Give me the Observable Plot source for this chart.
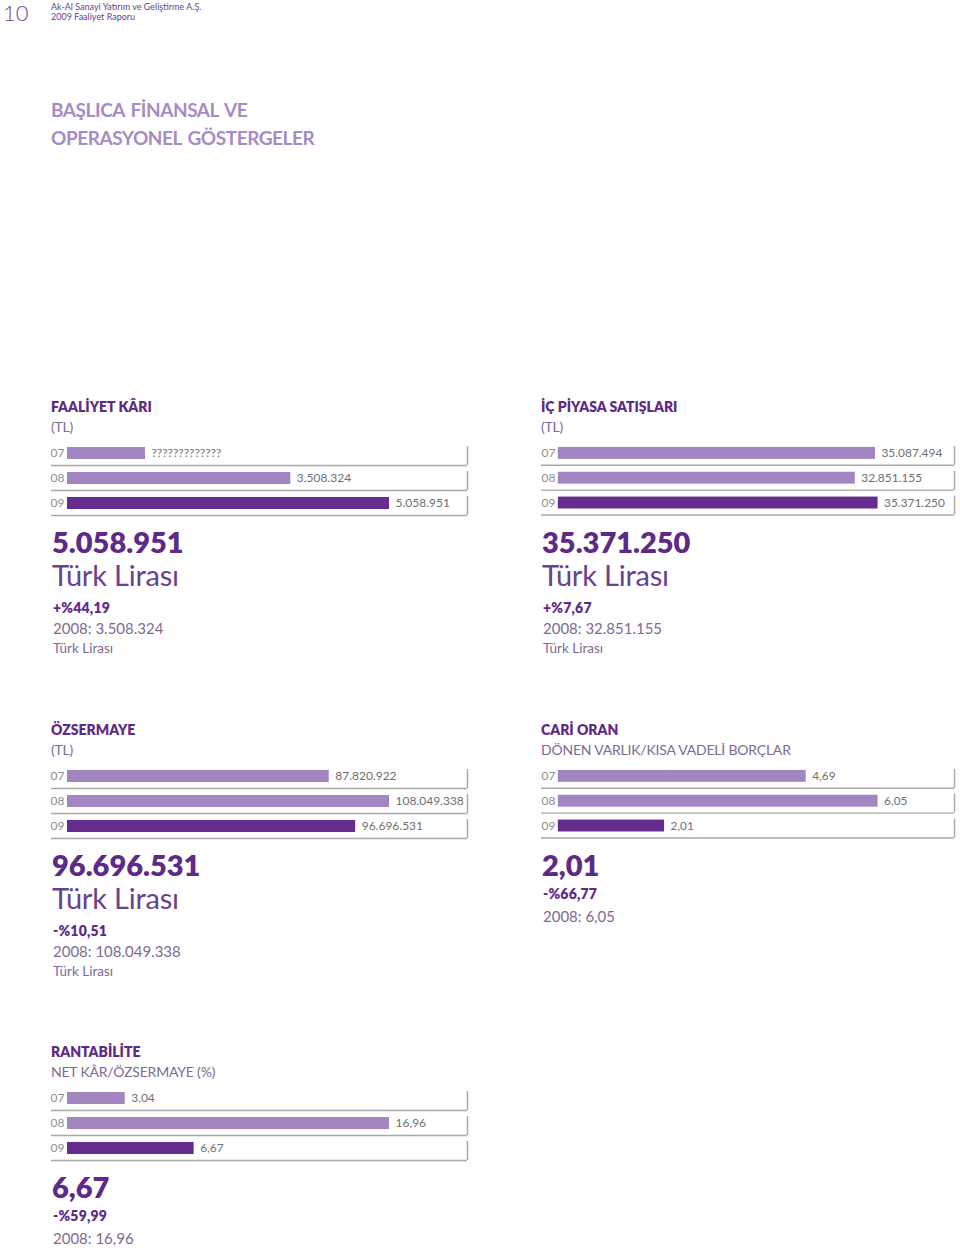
<!DOCTYPE html>
<html><head><meta charset="utf-8">
<script src="https://cdn.jsdelivr.net/npm/d3@7"></script>
<script src="https://cdn.jsdelivr.net/npm/@observablehq/plot@0.6"></script>
<style>
body{margin:0;background:#fff;}
#page{position:relative;width:960px;height:1250px;overflow:hidden;font-family:Lato,"Open Sans",sans-serif;background:#fff;}
.t{position:absolute;white-space:nowrap;line-height:1;}
.panel{position:absolute;}
.panel svg{overflow:visible;}
</style></head><body><div id="page"></div>
<script>
// ---- data ----
const years = ["07", "08", "09"];
const faaliyetKari = [1225000, 3508324, 5058951]; // 07 value unreadable in source
const faaliyetKariLabels = ["?????????????", "3.508.324", "5.058.951"];
const icPiyasaSatislari = [35087494, 32851155, 35371250];
const ozsermaye = [87820922, 108049338, 96696531];
const cariOran = [4.69, 6.05, 2.01];
const rantabilite = [3.04, 16.96, 6.67];
const titles = ["FAALİYET KÂRI", "İÇ PİYASA SATIŞLARI", "ÖZSERMAYE", "CARİ ORAN", "RANTABİLİTE"];
const subtitles = ["(TL)", "(TL)", "(TL)", "DÖNEN VARLIK/KISA VADELİ BORÇLAR", "NET KÂR/ÖZSERMAYE (%)"];
const changes = ["+%44,19", "+%7,67", "-%10,51", "-%66,77", "-%59,99"];

// ---- style ----
const DARK = "#662d91", LIGHT = "#a386c1", TEXT_DARK = "#5e2a88", TITLE = "#a68bc5",
      MUTED = "#7d6b93", UNIT = "#67438f", LINE = "#a9a9a9";

const tr = d3.formatLocale({decimal: ",", thousands: ".", grouping: [3], currency: ["", ""]});
const fmtInt = tr.format(",d");
const fmtDec = tr.format(",.2f");

const page = document.getElementById("page");
function txt(str, x, capTop, size, weight, color, ls = 0, ws = 0) {
  const d = document.createElement("div");
  d.className = "t";
  d.textContent = str;
  d.style.left = x + "px";
  d.style.top = (capTop - 0.17 * size) + "px";
  d.style.fontSize = size + "px";
  d.style.fontWeight = weight;
  d.style.color = color;
  if (ls) d.style.letterSpacing = ls + "px";
  if (ws) d.style.wordSpacing = ws + "px";
  page.appendChild(d);
}

// header
txt("10", 3, 6, 22, 300, "#6a4c8c");
txt("Ak-Al Sanayi Yatırım ve Geliştirme A.Ş.", 51, 4, 9, 400, "#6b3f93");
txt("2009 Faaliyet Raporu", 51, 14, 9, 400, "#6b3f93");
txt("BAŞLICA FİNANSAL VE", 51, 103.5, 19, 700, TITLE, -0.45, 2);
txt("OPERASYONEL GÖSTERGELER", 51, 131.5, 19, 700, TITLE, -0.45, 2);

const panels = [
  {values: faaliyetKari, labels: faaliyetKariLabels, fmt: fmtInt, col: 0, row: 0, unit: true},
  {values: icPiyasaSatislari, fmt: fmtInt, col: 1, row: 0, unit: true},
  {values: ozsermaye, fmt: fmtInt, col: 0, row: 1, unit: true},
  {values: cariOran, fmt: fmtDec, col: 1, row: 1, unit: false},
  {values: rantabilite, fmt: fmtDec, col: 0, row: 2, unit: false}
];
const colX = [51, 541];          // text left
const colSvgLeft = [41, 531];
const colBarStart = [67, 558];
const colFrameLeft = [51, 541];
const colFrameRight = [467, 957];
const rowDy = [0, 323, 645];
const MAXBAR = 322;

panels.forEach((p, k) => {
  const dy = rowDy[p.row], x0 = colX[p.col];
  txt(titles[k], x0, 402.5 + dy, 14, 800, TEXT_DARK, 0);
  txt(subtitles[k], x0, 422 + dy, 14, 400, MUTED, -0.2);
  txt(p.fmt(p.values[2]), x0 + 1, 531.5 + dy, 29, 800, TEXT_DARK);
  if (p.unit) {
    txt("Türk Lirası", x0 + 1, 565 + dy, 29, 400, UNIT, -0.2);
    txt(changes[k], x0 + 2, 603.5 + dy, 14, 800, TEXT_DARK, 0.2);
    txt("2008: " + p.fmt(p.values[1]), x0 + 2, 624 + dy, 15, 400, MUTED);
    txt("Türk Lirası", x0 + 2, 644 + dy, 13.5, 400, MUTED);
  } else {
    txt(changes[k], x0 + 2, 566 + dy, 14, 800, TEXT_DARK, 0.2);
    txt("2008: " + p.fmt(p.values[1]), x0 + 2, 588.5 + dy, 15, 400, MUTED);
  }

  // bar chart
  const data = years.map((y, i) => ({year: y, value: p.values[i], label: p.labels ? p.labels[i] : p.fmt(p.values[i])}));
  const left = colSvgLeft[p.col], barStart = colBarStart[p.col], frameRight = colFrameRight[p.col];
  const W = 432;
  const maxV = d3.max(p.values);
  const domainMax = maxV * (frameRight - barStart) / MAXBAR;
  const chart = Plot.plot({
    width: W, height: 85,
    marginLeft: barStart - left, marginRight: W - (frameRight - left), marginTop: 0, marginBottom: 0,
    style: {fontFamily: "Lato, 'Open Sans', sans-serif", fontSize: "12px", background: "transparent"},
    x: {domain: [0, domainMax], axis: null},
    y: {domain: years, range: [3.5, 78.5], paddingInner: 0.52, paddingOuter: 0.26, axis: null},
    color: {domain: years, range: [LIGHT, LIGHT, DARK]},
    marks: [
      Plot.ruleY(years, {y: d => d, dy: 12, insetLeft: -(barStart - colFrameLeft[p.col]), stroke: LINE, strokeWidth: 1.5}),
      Plot.tickX(years, {x: () => domainMax, y: d => d, insetTop: -1, insetBottom: -6, stroke: LINE, strokeWidth: 1.5}),
      Plot.barX(data, {x: "value", y: "year", fill: "year"}),
      Plot.text(data, {x: "value", y: "year", text: "label", dx: 6, textAnchor: "start", fill: "#6f6f6f", fontSize: 12}),
      Plot.text(data, {x: () => 0, y: "year", text: "year", dx: -3, textAnchor: "end", fill: "#8e8e8e", fontSize: 12})
    ]
  });
  const holder = document.createElement("div");
  holder.className = "panel";
  holder.style.left = left + "px";
  holder.style.top = (dy + 447 - 10) + "px";
  holder.appendChild(chart);
  page.appendChild(holder);
});
</script></body></html>
